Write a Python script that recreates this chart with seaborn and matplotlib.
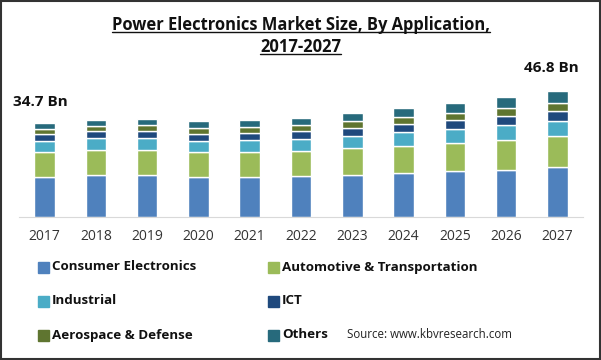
import numpy as np
import pandas as pd
import matplotlib
matplotlib.use("Agg")
import matplotlib.pyplot as plt
import seaborn as sns
from matplotlib.patches import Rectangle
from matplotlib.lines import Line2D

years = ["2017", "2018", "2019", "2020", "2021", "2022", "2023", "2024", "2025", "2026", "2027"]
consumer = [14.8, 15.5, 15.5, 14.7, 14.7, 15.1, 15.5, 16.2, 16.9, 17.4, 18.3]
automotive = [9.25, 9.4, 9.4, 9.4, 9.4, 9.4, 10.0, 10.1, 10.4, 11.0, 11.5]
industrial = [3.95, 4.45, 4.45, 4.1, 4.45, 4.3, 4.45, 5.1, 5.2, 5.6, 5.8]
ict = [2.6, 2.5, 2.5, 2.5, 2.6, 3.1, 3.0, 3.0, 3.3, 3.3, 3.7]
aerospace = [2.0, 2.0, 2.35, 2.35, 2.2, 2.0, 2.7, 2.6, 2.6, 3.0, 3.0]
others = [2.2, 2.1, 2.1, 2.5, 2.5, 2.7, 2.85, 3.3, 3.7, 4.1, 4.5]

series = ["Consumer Electronics", "Automotive & Transportation", "Industrial",
          "ICT", "Aerospace & Defense", "Others"]
values = [consumer, automotive, industrial, ict, aerospace, others]
colors = ["#4f81bd", "#9bbb59", "#4bacc6", "#1f497d", "#5f7530", "#276a7c"]

sns.set_style("white")
plt.rcParams['font.family'] = ['Open Sans', 'DejaVu Sans']

fig = plt.figure(figsize=(6.01, 3.6), dpi=100)
ax = fig.add_axes([0.0316, 0.398, 0.9384, 0.434])

bottom = np.zeros(len(years))
for name, vals, col in zip(series, values, colors):
    sns.barplot(x=years, y=vals, bottom=bottom, color=col, width=0.4,
                saturation=1, ax=ax, label=name)
    bottom = bottom + np.array(vals)

ax.set_xlim(-0.5, 10.5)
ax.set_ylim(0, 58)
ax.set_yticks([])
for s in ["top", "right", "left"]:
    ax.spines[s].set_visible(False)
ax.spines["bottom"].set_color("#d9d9d9")
ax.tick_params(axis="x", length=0, pad=9, labelsize=10, labelcolor="#333333")
ax.legend().remove()

# value labels for first and last year
ax.text(-0.08, 42.7, "34.7 Bn", ha="center", va="center", fontsize=11,
        fontweight="bold", color="#111111")
ax.text(9.88, 55.2, "46.8 Bn", ha="center", va="center", fontsize=11,
        fontweight="bold", color="#111111", clip_on=False)

# title with underline
t1 = fig.text(0.5, 1 - 25 / 360, "Power Electronics Market Size, By Application,",
              ha="center", va="center", fontsize=11.9, fontweight="bold", color="#111111")
t2 = fig.text(0.5, 1 - 47 / 360, "2017-2027", ha="center", va="center",
              fontsize=11.9, fontweight="bold", color="#111111")
fig.canvas.draw()
r = fig.canvas.get_renderer()
for t in (t1, t2):
    bb = t.get_window_extent(r)
    yline = (bb.y0 + 2) / fig.bbox.height
    fig.add_artist(Line2D([bb.x0 / fig.bbox.width, bb.x1 / fig.bbox.width], [yline, yline],
                          color="#111111", lw=1.0, transform=fig.transFigure))

# legend
rows = [267, 301, 335]
cols = [38, 268]
for i, (name, col) in enumerate(zip(series, colors)):
    x = cols[i % 2]
    y = rows[i // 2]
    fig.add_artist(Rectangle((x / 601, 1 - (y + 5.5) / 360), 11 / 601, 11 / 360,
                             color=col, transform=fig.transFigure))
    fig.text((x + 14) / 601, 1 - y / 360, name, ha="left", va="center",
             fontsize=9.6, fontweight="bold", color="#111111")

fig.text(347 / 601, 1 - 335 / 360, "Source: www.kbvresearch.com", ha="left",
         va="center", fontsize=8.3, color="#222222")

fig.add_artist(Rectangle((0.001, 0.0015), 0.997, 0.996, fill=False, ec="#333333",
                         lw=1.5, transform=fig.transFigure))

fig.savefig("out.png", dpi=100)
